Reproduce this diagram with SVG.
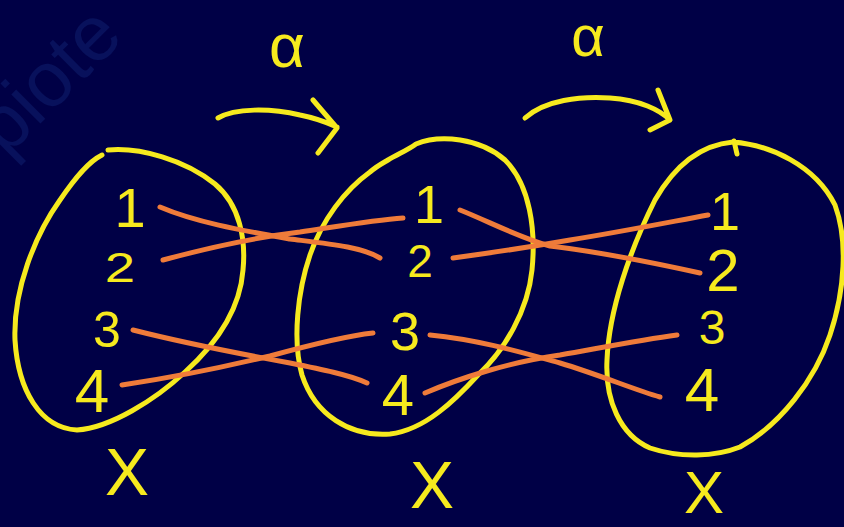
<svg xmlns="http://www.w3.org/2000/svg" width="844" height="527" viewBox="0 0 844 527">
<style>
.ring{fill:none;stroke:#f6ea1e;stroke-width:5;stroke-linecap:round;stroke-linejoin:round}
.num{fill:#f6ea1e;font-family:"Liberation Sans",Arial,sans-serif;text-anchor:middle}
.map{fill:none;stroke:#ef7b3a;stroke-width:5;stroke-linecap:round}
.arr{fill:none;stroke:#f6ea1e;stroke-width:5;stroke-linecap:round;stroke-linejoin:round}
.wm{fill:#08115c;font-family:"Liberation Sans",Arial,sans-serif;font-size:78px}
</style>
<rect width="844" height="527" fill="#000046"/>
<text class="wm" transform="translate(6,158) rotate(-45)">piote</text>

<g id="setX1">
<path class="ring" d="M108,150 C140,147 185,160 215,184 C240,205 246,240 243,270 C240,310 215,345 185,372 C155,400 110,428 77,430 C40,428 18,390 15,340 C13,290 35,235 60,200 C75,178 88,162 102,155"/>
<text class="num" x="130" y="227" font-size="56">1</text>
<text class="num" transform="translate(120,282) scale(1.3,1)" font-size="42">2</text>
<text class="num" x="107" y="347" font-size="50">3</text>
<text class="num" x="92" y="412" font-size="62">4</text>
<text class="num" x="127" y="495" font-size="66">X</text>
</g>

<g id="setX2">
<path class="ring" d="M388,160 C398,154 408,150 416,144 C440,134 480,138 505,160 C530,185 536,230 532,270 C528,310 505,350 478,375 C455,400 425,430 390,434 C350,437 315,415 302,375 C292,340 298,290 310,255 C322,220 345,190 370,172 C377,166 383,163 388,160"/>
<text class="num" x="429" y="223" font-size="54">1</text>
<text class="num" x="420" y="277" font-size="46">2</text>
<text class="num" x="405" y="350" font-size="54">3</text>
<text class="num" x="398" y="415" font-size="58">4</text>
<text class="num" x="432" y="508" font-size="66">X</text>
</g>

<g id="setX3">
<path class="ring" d="M733,142 C770,145 815,165 835,205 C848,240 845,290 830,335 C815,380 780,425 740,447 C715,457 680,458 650,448 C620,435 605,400 607,360 C609,310 630,250 655,200 C675,165 700,145 733,142 M734,141 L737,154"/>
<text class="num" x="725" y="230" font-size="54">1</text>
<text class="num" x="723" y="291" font-size="60">2</text>
<text class="num" x="712" y="344" font-size="48">3</text>
<text class="num" x="702" y="411" font-size="62">4</text>
<text class="num" x="704" y="513" font-size="60">X</text>
</g>

<g id="connectors">
<path class="map" d="M160,207 C195,222 240,230 290,239 C330,244 362,247 380,258"/>
<path class="map" d="M163,260 C200,250 250,238 300,232 C340,226 375,220 403,218"/>
<path class="map" d="M133,330 C180,342 230,352 290,363 C320,369 350,375 367,383"/>
<path class="map" d="M122,385 C170,378 220,368 270,356 C310,345 345,336 373,333"/>
<path class="map" d="M460,210 C490,222 520,238 550,246 C600,252 650,262 700,273"/>
<path class="map" d="M453,258 C490,253 530,247 570,240 C620,232 670,222 708,215"/>
<path class="map" d="M430,335 C480,340 520,352 560,363 C600,375 635,390 660,397"/>
<path class="map" d="M425,393 C460,378 510,362 560,355 C600,348 640,340 677,335"/>
<g id="alpha1">
<path class="arr" d="M218,118 C235,108 270,108 300,115 C320,119 330,124 337,127 M313,100 L337,128 L318,153"/>
<text class="num" x="287" y="67" font-size="62">α</text>
</g>
<g id="alpha2">
<path class="arr" d="M525,118 C545,100 580,96 610,98 C640,100 660,110 670,120 M658,90 L670,120 L650,130"/>
<text class="num" x="588" y="56" font-size="58">α</text>
</g>
</g>
</svg>
